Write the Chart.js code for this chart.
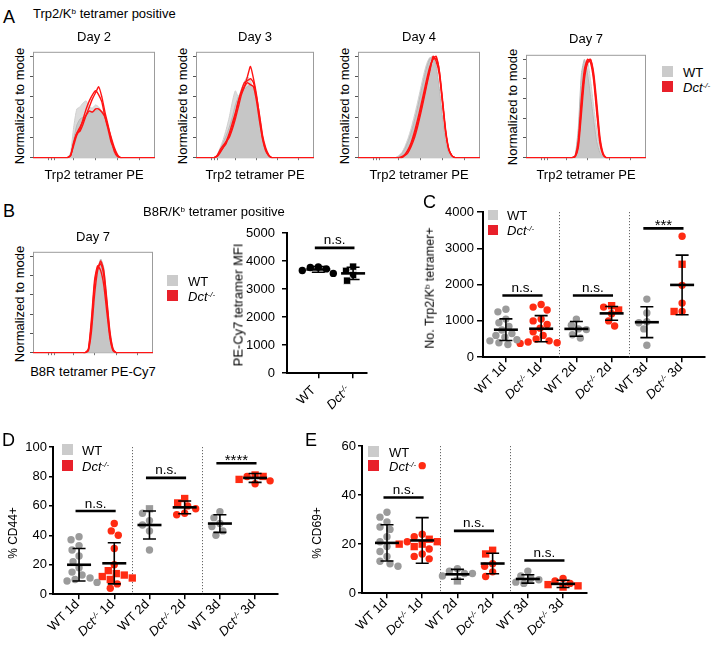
<!DOCTYPE html>
<html>
<head>
<meta charset="utf-8">
<title>Trp2 / B8R tetramer figure</title>
<script src="https://cdn.jsdelivr.net/npm/chart.js@4.4.1/dist/chart.umd.min.js"></script>
<style>
html,body{margin:0;padding:0;background:#fff;}
#root{position:relative;width:714px;height:653px;overflow:hidden;font-family:'Liberation Sans',Arial,Helvetica,sans-serif;color:#000;}
#root canvas{position:absolute;}
.tx{position:absolute;white-space:nowrap;}
.sq{position:absolute;}
sup{font-size:0.62em;vertical-align:baseline;position:relative;top:-0.5em;}
</style>
</head>
<body>
<div id="root"></div>
<script>
// ---------------- DATA ----------------
// histogram bins (channel index across the axis)
const histBins = Array.from({length: 40}, (_, i) => i);
const histYTicks = [0, 20, 40, 60, 80, 100];
const histXTicks = [5, 6, 7, 13, 20, 27, 34];

// Panel A: Trp2/Kb tetramer positive, normalized to mode (%)
const d2WT1 = [0,0,0,0,0,0,0,0,0,0,0,0,3,18,32,38,40,42,44,45,46,47,46,42,30,15,4,0,0,0,0,0,0,0,0,0,0,0,0,0];
const d2WT2 = [0,0,0,0,0,0,0,0,0,0,0,0,5,30,48,50,54,56,50,49,52,50,45,35,22,8,2,0,0,0,0,0,0,0,0,0,0,0,0,0];
const d2Dct1 = [0,0,0,0,0,0,0,0,0,0,0,0,2,15,24,26,33,42,50,58,64,70,60,45,32,18,6,1,0,0,0,0,0,0,0,0,0,0,0,0];
const d2Dct2 = [0,0,0,0,0,0,0,0,0,0,0,0,2,12,22,28,38,48,56,62,66,62,55,40,28,15,8,2,0,0,0,0,0,0,0,0,0,0,0,0];
const d2Dct3 = [0,0,0,0,0,0,0,0,0,0,0,0,2,14,24,30,36,42,46,45,48,48,45,40,30,20,10,3,0,0,0,0,0,0,0,0,0,0,0,0];

const d3WT1 = [0,0,0,0,0,0,0,2,8,15,22,30,40,52,60,65,68,70,72,70,55,35,18,6,1,0,0,0,0,0,0,0,0,0,0,0,0,0,0,0];
const d3WT2 = [0,0,0,0,0,0,0,3,10,18,28,40,55,66,60,68,75,80,76,65,48,28,12,4,1,0,0,0,0,0,0,0,0,0,0,0,0,0,0,0];
const d3Dct1 = [0,0,0,0,0,0,0,2,8,12,16,20,28,38,50,62,70,80,90,78,62,40,20,8,2,0,0,0,0,0,0,0,0,0,0,0,0,0,0,0];
const d3Dct2 = [0,0,0,0,0,0,0,2,6,10,14,22,30,42,55,66,74,76,78,74,60,42,22,10,3,0,0,0,0,0,0,0,0,0,0,0,0,0,0,0];
const d3Dct3 = [0,0,0,0,0,0,0,1,5,10,16,24,34,44,56,64,70,74,72,70,56,36,18,7,2,0,0,0,0,0,0,0,0,0,0,0,0,0,0,0];

const d4WT1 = [0,0,0,0,0,0,0,0,0,0,0,0,0,1,4,9,16,25,36,49,63,77,90,98,100,90,68,40,16,4,1,0,0,0,0,0,0,0,0,0];
const d4WT2 = [0,0,0,0,0,0,0,0,0,0,0,0,0,2,5,11,19,29,41,54,68,82,93,99,95,82,60,35,14,3,1,0,0,0,0,0,0,0,0,0];
const d4Dct1 = [0,0,0,0,0,0,0,0,0,0,0,0,0,0,1,3,7,13,22,33,46,60,74,88,98,100,85,55,25,8,2,0,0,0,0,0,0,0,0,0];
const d4Dct2 = [0,0,0,0,0,0,0,0,0,0,0,0,0,0,0,2,5,11,19,30,43,57,72,86,100,95,82,55,26,8,2,0,0,0,0,0,0,0,0,0];
const d4Dct3 = [0,0,0,0,0,0,0,0,0,0,0,0,0,0,0,3,8,15,25,37,50,64,78,90,97,98,86,58,28,9,2,0,0,0,0,0,0,0,0,0];

const d7WT1 = [0,0,0,0,0,0,0,0,0,0,0,0,0,0,0,0,3,30,85,100,85,62,38,16,5,1,0,0,0,0,0,0,0,0,0,0,0,0,0,0];
const d7WT2 = [0,0,0,0,0,0,0,0,0,0,0,0,0,0,0,0,2,20,68,95,98,78,52,28,10,2,0,0,0,0,0,0,0,0,0,0,0,0,0,0];
const d7Dct1 = [0,0,0,0,0,0,0,0,0,0,0,0,0,0,0,0,1,14,52,85,98,100,82,50,18,4,0,0,0,0,0,0,0,0,0,0,0,0,0,0];
const d7Dct2 = [0,0,0,0,0,0,0,0,0,0,0,0,0,0,0,0,1,10,44,80,96,99,86,56,22,5,0,0,0,0,0,0,0,0,0,0,0,0,0,0];
const d7Dct3 = [0,0,0,0,0,0,0,0,0,0,0,0,0,0,0,0,2,18,60,90,100,96,78,45,15,3,0,0,0,0,0,0,0,0,0,0,0,0,0,0];

// Panel B: B8R/Kb tetramer positive, day 7
const bWT1 = [0,0,0,0,0,0,0,0,0,0,0,0,0,0,0,0,0,0,4,25,55,85,97,88,55,22,4,0,0,0,0,0,0,0,0,0,0,0,0,0];
const bDct1 = [0,0,0,0,0,0,0,0,0,0,0,0,0,0,0,0,0,0,3,30,70,88,92,80,50,18,3,0,0,0,0,0,0,0,0,0,0,0,0,0];
const bDct2 = [0,0,0,0,0,0,0,0,0,0,0,0,0,0,0,0,0,0,2,22,60,85,95,85,55,22,4,0,0,0,0,0,0,0,0,0,0,0,0,0];
const bDct3 = [0,0,0,0,0,0,0,0,0,0,0,0,0,0,0,0,0,0,4,35,75,90,85,70,42,15,2,0,0,0,0,0,0,0,0,0,0,0,0,0];

// Panel B right: PE-Cy7 tetramer MFI
const bCategories = ['WT', 'Dct-/-'];
const bCircles = [[3560, 3660, 3720, 3790, 3770], []];
const bSquares = [[], [3800, 3650, 3500, 3300]];
const bMean = [3700, 3560];
const bSD = [100, 220];
const bSig = [4470];
const bSigText = ['n.s.'];
const bYTicks = [0, 1000, 2000, 3000, 4000, 5000];

// Panels C-E categories
const dayCategories = ['WT 1d', 'Dct-/- 1d', 'WT 2d', 'Dct-/- 2d', 'WT 3d', 'Dct-/- 3d'];

// Panel C: No. Trp2/Kb tetramer+
const cCircles = [
  [1320, 1250, 1050, 950, 850, 750, 650, 600, 550, 480, 450, 400, 350],
  [1450, 1380, 1300, 1050, 1000, 900, 800, 700, 600, 500, 450, 420, 400, 380],
  [1050, 880, 780, 760, 620, 530],
  [1380, 1200, 1000, 860],
  [1600, 1220, 980, 950, 780, 330],
  [3330, 1980, 1490, 1260]
];
const cSquares = [[], [], [], [1420, 1300], [], [2560, 1260]];
const cMean = [757, 784, 780, 1207, 964, 1991];
const cSD = [298, 360, 203, 189, 424, 820];
const cSig = [1700, 1700, 3550];
const cSigText = ['n.s.', 'n.s.', '***'];
const cYTicks = [0, 1000, 2000, 3000, 4000];

// Panel D: % CD44+
const dCircles = [
  [39, 37, 33, 30, 26, 22, 18, 15, 13, 11, 10, 9, 8],
  [48, 43, 40, 31, 20, 7, 4],
  [55, 50, 47, 43, 30],
  [60, 58, 55, 54],
  [56, 52, 48, 46, 43, 40],
  [80, 77, 75]
];
const dSquares = [[], [16, 14, 13, 12, 11, 10], [58], [65, 62], [], [81, 80, 78]];
const dMean = [20, 21, 47, 59, 48, 79];
const dSD = [11, 14, 9.5, 4.3, 6, 3];
const dSig = [56.5, 79, 89];
const dSigText = ['n.s.', 'n.s.', '****'];
const dYTicks = [0, 20, 40, 60, 80, 100];

// Panel E: % CD69+
const eCircles = [
  [33, 31, 29, 27, 26, 23, 21, 19, 17, 15, 13, 12, 11],
  [52, 24, 23, 21, 18, 16, 15, 14],
  [10, 9, 8, 8, 7],
  [12, 11, 8.7, 6.8],
  [9, 7, 6, 5.5, 4.5, 4],
  [6, 5, 4]
];
const eSquares = [[], [22, 21, 20, 20, 19], [5], [17.5, 16], [], [3.5, 3, 2.5]];
const eMean = [20.5, 21.5, 7.7, 12.1, 5.8, 3.8];
const eSD = [7.4, 9.3, 2, 4.2, 1.7, 1.5];
const eSig = [39, 25.4, 13.3];
const eSigText = ['n.s.', 'n.s.', 'n.s.'];
const eYTicks = [0, 20, 40, 60];

// ---------------- RENDERING ----------------
const root = document.getElementById('root');
const FONT = "'Liberation Sans', Arial, Helvetica, sans-serif";
Chart.defaults.font.family = FONT;
Chart.defaults.font.size = 13;
Chart.defaults.color = '#000';

const GRAY_PT = '#9b9b9b', RED_PT = '#ff2b12', RED_LINE = '#ff1414';
const LEG_GRAY = '#cbcbcb', LEG_RED = '#e8202a';

function genoHtml(s) {
  return s.replace('Dct-/-', '<i>Dct<sup>-/-</sup></i>');
}

function makeCanvas(box, pad) {
  const cv = document.createElement('canvas');
  const W = box.w + pad.l + pad.r, H = box.h + pad.t + pad.b;
  cv.width = W; cv.height = H;
  cv.style.left = (box.x - pad.l) + 'px';
  cv.style.top = (box.y - pad.t) + 'px';
  cv.style.width = W + 'px';
  cv.style.height = H + 'px';
  root.appendChild(cv);
  return cv;
}

function addText(html, x, base, o = {}) {
  const size = o.size || 13;
  const el = document.createElement('div');
  el.className = 'tx';
  el.innerHTML = html;
  el.style.fontSize = size + 'px';
  el.style.lineHeight = size + 'px';
  el.style.top = (base - size * 0.8465) + 'px';
  if (o.align === 'center') { el.style.left = x + 'px'; el.style.transform = 'translateX(-50%)'; }
  else el.style.left = x + 'px';
  root.appendChild(el);
  return el;
}
function addRotY(html, cx, cy, size = 13) {
  const el = document.createElement('div');
  el.className = 'tx';
  el.innerHTML = html;
  el.style.fontSize = size + 'px';
  el.style.lineHeight = size + 'px';
  el.style.left = cx + 'px';
  el.style.top = cy + 'px';
  el.style.transform = 'translate(-50%,-50%) rotate(-90deg)';
  root.appendChild(el);
}
function addXLabel(html, px, py, size = 13) {
  const el = document.createElement('div');
  el.className = 'tx';
  el.innerHTML = html;
  el.style.fontSize = size + 'px';
  el.style.lineHeight = '14px';
  el.style.height = '14px';
  el.style.right = (714 - px) + 'px';
  el.style.top = (py - 7) + 'px';
  el.style.transformOrigin = '100% 50%';
  el.style.transform = 'rotate(-45deg)';
  root.appendChild(el);
}
function addSquare(x, y, w, h, color) {
  const el = document.createElement('div');
  el.className = 'sq';
  el.style.left = x + 'px'; el.style.top = y + 'px';
  el.style.width = w + 'px'; el.style.height = h + 'px';
  el.style.background = color;
  root.appendChild(el);
}
const GENOTYPES_HTML = ['WT', '<i>Dct<sup>-/-</sup></i>'];
function legend(x, y, textX, gapY, size) {
  addSquare(x, y, size, size, LEG_GRAY);
  addSquare(x, y + gapY, size, size, LEG_RED);
  addText(GENOTYPES_HTML[0], textX, y + size, {});
  addText(GENOTYPES_HTML[1], textX, y + gapY + size, {});
}

// ---- histogram charts ----
const boxPlugin = {
  id: 'histBox',
  beforeDatasetsDraw(ch) {
    const {ctx, chartArea: a} = ch;
    ctx.save();
    ctx.strokeStyle = '#9c9c9c';
    ctx.lineWidth = 1;
    ctx.strokeRect(a.left + 0.5, a.top + 0.5, a.right - a.left - 1, a.bottom - a.top - 1);
    ctx.restore();
  }
};

function histChart(box, wt, dct) {
  const pad = {l: 5, t: 2, r: 2, b: 5};
  const cv = makeCanvas(box, pad);
  const datasets = [];
  dct.forEach(d => datasets.push({data: d, borderColor: RED_LINE, borderWidth: 1.4, pointRadius: 0, fill: false, tension: 0.2}));
  wt.forEach((d, k) => datasets.push({
    data: d, borderColor: k ? '#d0d0d0' : '#b8b8b8', backgroundColor: k ? '#dcdcdc' : '#c6c6c6',
    borderWidth: 1, pointRadius: 0, fill: 'origin', tension: 0.2
  }));
  return new Chart(cv, {
    type: 'line',
    data: {labels: histBins, datasets},
    plugins: [boxPlugin],
    options: {
      responsive: false, animation: false, devicePixelRatio: 1, events: [],
      layout: {padding: {left: 0, right: pad.r, top: pad.t, bottom: 0}},
      plugins: {legend: {display: false}, tooltip: {enabled: false}},
      scales: {
        x: {
          type: 'linear', min: 0, max: 39,
          afterFit: s => { s.height = pad.b; },
          afterBuildTicks: s => { s.ticks = histXTicks.map(v => ({value: v})); },
          ticks: {callback: () => ''},
          border: {display: false},
          grid: {drawOnChartArea: false, drawTicks: true, tickLength: 2, color: '#777', lineWidth: 1}
        },
        y: {
          min: -0.6, max: 104.5,
          afterFit: s => { s.width = pad.l; },
          afterBuildTicks: s => { s.ticks = histYTicks.map(v => ({value: v})); },
          ticks: {callback: () => ''},
          border: {display: false},
          grid: {drawOnChartArea: false, drawTicks: true, tickLength: 3, color: '#555', lineWidth: 1}
        }
      }
    }
  });
}

// ---- dot plot charts ----
function swarm(ys, pxPerY, pxPerX, diam) {
  const order = ys.map((_, i) => i).sort((a, b) => ys[b] - ys[a]);
  const placed = [];
  const out = new Array(ys.length);
  for (const i of order) {
    const py = ys[i] * pxPerY;
    let chosen = 0;
    for (let k = 0; k < 80; k++) {
      const off = k === 0 ? 0 : (k % 2 ? -1 : 1) * Math.ceil(k / 2) * 1.0;
      if (placed.every(p => Math.hypot(p.x - off, p.y - py) >= diam)) { chosen = off; break; }
    }
    placed.push({x: chosen, y: py});
    out[i] = chosen / pxPerX;
  }
  return out;
}

const dotsPlugin = {
  id: 'dots',
  beforeDatasetsDraw(ch, args, o) {
    const {ctx, chartArea: ca, scales: {x}} = ch;
    (o.seps || []).forEach(v => {
      const px = Math.round(x.getPixelForValue(v)) + 0.5;
      ctx.save();
      ctx.strokeStyle = '#666';
      ctx.lineWidth = 1;
      ctx.setLineDash([1.2, 1.8]);
      ctx.beginPath(); ctx.moveTo(px, ca.top); ctx.lineTo(px, ca.bottom); ctx.stroke();
      ctx.restore();
    });
  },
  afterDatasetsDraw(ch, args, o) {
    const {ctx, scales: {x, y}} = ch;
    ctx.save();
    ctx.strokeStyle = '#000';
    ctx.fillStyle = '#000';
    o.mean.forEach((m, i) => {
      const px = x.getPixelForValue(i);
      const pm = y.getPixelForValue(m), pt = y.getPixelForValue(m + o.sd[i]), pb = y.getPixelForValue(m - o.sd[i]);
      ctx.lineWidth = 1.6;
      ctx.beginPath();
      ctx.moveTo(px, pt); ctx.lineTo(px, pb);
      ctx.moveTo(px - 6.5, pt); ctx.lineTo(px + 6.5, pt);
      ctx.moveTo(px - 6.5, pb); ctx.lineTo(px + 6.5, pb);
      ctx.stroke();
      ctx.lineWidth = 2.6;
      ctx.beginPath(); ctx.moveTo(px - 12, pm); ctx.lineTo(px + 12, pm); ctx.stroke();
    });
    o.sig.forEach((v, k) => {
      const g = 2 * k;
      const x1 = x.getPixelForValue(g - 0.1), x2 = x.getPixelForValue(g + 1.04);
      const py = y.getPixelForValue(v);
      ctx.lineWidth = 2.6;
      ctx.beginPath(); ctx.moveTo(x1, py); ctx.lineTo(x2, py); ctx.stroke();
      const t = o.sigText[k];
      const star = t.indexOf('*') >= 0;
      ctx.font = (star ? '15px ' : '13.5px ') + FONT;
      ctx.textAlign = 'center';
      ctx.textBaseline = 'alphabetic';
      ctx.fillText(t, (x1 + x2) / 2, star ? py + 1.5 : py - 3.5);
    });
    ctx.restore();
  }
};

function dotChart(cfg) {
  const {box, pad, xmin, xmax, ymin, ymax, yTicks, circles, squares, colors} = cfg;
  const cv = makeCanvas(box, pad);
  const pxPerY = box.h / (ymax - ymin), pxPerX = box.w / (xmax - xmin);
  const datasets = [];
  circles.forEach((grp, g) => {
    const all = grp.concat(squares[g]);
    const offs = swarm(all, pxPerY, pxPerX, 7.8);
    datasets.push({
      data: grp.map((v, k) => ({x: g + offs[k], y: v})),
      pointStyle: 'circle', pointRadius: 3.7, backgroundColor: colors[g], borderWidth: 0, clip: false
    });
    if (squares[g].length) datasets.push({
      data: squares[g].map((v, k) => ({x: g + offs[grp.length + k], y: v})),
      pointStyle: 'rect', pointRadius: 5.2, backgroundColor: colors[g],
      borderWidth: cfg.sqBorder || 0, borderColor: '#fff', clip: false
    });
  });
  const chart = new Chart(cv, {
    type: 'scatter',
    data: {datasets},
    plugins: [dotsPlugin],
    options: {
      responsive: false, animation: false, devicePixelRatio: 1, events: [],
      layout: {padding: {left: 0, right: pad.r, top: pad.t, bottom: 0}},
      plugins: {
        legend: {display: false}, tooltip: {enabled: false},
        dots: {mean: cfg.mean, sd: cfg.sd, sig: cfg.sig, sigText: cfg.sigText, seps: cfg.seps}
      },
      scales: {
        x: {
          type: 'linear', min: xmin, max: xmax,
          afterFit: s => { s.height = pad.b; },
          afterBuildTicks: s => { s.ticks = circles.map((_, i) => ({value: i})); },
          ticks: {callback: () => ''},
          border: {display: true, color: '#000', width: 2},
          grid: {drawOnChartArea: false, drawTicks: true, tickLength: 5, color: '#000', lineWidth: 1.5}
        },
        y: {
          type: 'linear', min: ymin, max: ymax,
          afterFit: s => { s.width = pad.l; },
          afterBuildTicks: s => { s.ticks = yTicks.map(v => ({value: v})); },
          ticks: {callback: v => String(v), padding: cfg.tickPad, font: {size: 13}, color: '#000'},
          border: {display: true, color: '#000', width: 2},
          grid: {drawOnChartArea: false, drawTicks: true, tickLength: cfg.tickLen, color: '#000', lineWidth: 1.5}
        }
      }
    }
  });
  // rotated category labels, positioned from the chart's own x scale
  const left = box.x - pad.l, top = box.y - pad.t;
  cfg.labels.forEach((lab, i) => {
    const px = left + chart.scales.x.getPixelForValue(i);
    const py = top + chart.chartArea.bottom;
    addXLabel(genoHtml(lab), px + cfg.lab[0], py + cfg.lab[1]);
  });
  return chart;
}

// ---------- Panel A ----------
const boxA2 = {x: 33, y: 43, w: 122, h: 121};
const boxA3 = {x: 196, y: 43, w: 118, h: 121};
const boxA4 = {x: 358, y: 43, w: 122, h: 121};
const boxA7 = {x: 526, y: 46, w: 120, h: 118};
const boxB7 = {x: 33, y: 243, w: 120, h: 116};

histChart(boxA2, [d2WT1, d2WT2], [d2Dct1, d2Dct2, d2Dct3]);
histChart(boxA3, [d3WT1, d3WT2], [d3Dct1, d3Dct2, d3Dct3]);
histChart(boxA4, [d4WT1, d4WT2], [d4Dct1, d4Dct2, d4Dct3]);
histChart(boxA7, [d7WT1, d7WT2], [d7Dct1, d7Dct2, d7Dct3]);
histChart(boxB7, [bWT1], [bDct1, bDct2, bDct3]);

// ---------- dot plots ----------
const grpColors = [GRAY_PT, RED_PT, GRAY_PT, RED_PT, GRAY_PT, RED_PT];

dotChart({
  box: {x: 287, y: 233, w: 80, h: 147}, pad: {l: 60, t: 16, r: 6, b: 8},
  xmin: -0.9, xmax: 1.4, ymin: 0, ymax: 5000, yTicks: bYTicks,
  circles: bCircles, squares: bSquares, colors: ['#000', '#000'], sqBorder: 0.8,
  mean: bMean, sd: bSD, sig: bSig, sigText: bSigText, seps: [],
  tickLen: 5, tickPad: 7, labels: bCategories, lab: [-5, 14.5]
});
dotChart({
  box: {x: 483, y: 212, w: 222, h: 148}, pad: {l: 58, t: 14, r: 6, b: 8},
  xmin: -0.65, xmax: 5.65, ymin: 0, ymax: 4000, yTicks: cYTicks,
  circles: cCircles, squares: cSquares, colors: grpColors,
  mean: cMean, sd: cSD, sig: cSig, sigText: cSigText, seps: [1.5, 3.5],
  tickLen: 6, tickPad: 3, labels: dayCategories, lab: [-2, 7.5]
});
dotChart({
  box: {x: 53, y: 447, w: 225, h: 149}, pad: {l: 50, t: 14, r: 6, b: 8},
  xmin: -0.74, xmax: 5.65, ymin: 0, ymax: 100, yTicks: dYTicks,
  circles: dCircles, squares: dSquares, colors: grpColors,
  mean: dMean, sd: dSD, sig: dSig, sigText: dSigText, seps: [1.5, 3.5],
  tickLen: 4, tickPad: 2, labels: dayCategories, lab: [-2, 7.5]
});
dotChart({
  box: {x: 362, y: 446, w: 225, h: 149}, pad: {l: 46, t: 14, r: 6, b: 8},
  xmin: -0.71, xmax: 5.68, ymin: 0, ymax: 60, yTicks: eYTicks,
  circles: eCircles, squares: eSquares, colors: grpColors,
  mean: eMean, sd: eSD, sig: eSig, sigText: eSigText, seps: [1.5, 3.5],
  tickLen: 4, tickPad: 2, labels: dayCategories, lab: [-2, 7.5]
});

// ---------- text ----------
// Panel A
addText('A', 3, 23, {size: 18});
addText('Trp2/K<sup>b</sup> tetramer positive', 33, 18);
[[boxA2, 'Day 2', 41], [boxA3, 'Day 3', 41], [boxA4, 'Day 4', 41], [boxA7, 'Day 7', 43]].forEach(([b, t, base]) => {
  addText(t, b.x + b.w / 2, base, {align: 'center'});
  addText('Trp2 tetramer PE', b.x + b.w / 2, 179.5, {align: 'center'});
  addRotY('Normalized to mode', b.x - 14, b.y + b.h / 2 + 2);
});
legend(662, 66, 683, 15, 11);

// Panel B
addText('B', 3, 217, {size: 18});
addText('B8R/K<sup>b</sup> tetramer positive', 143, 216);
addText('Day 7', boxB7.x + boxB7.w / 2, 241, {align: 'center'});
addText('B8R tetramer PE-Cy7', boxB7.x + boxB7.w / 2, 376, {align: 'center'});
addRotY('Normalized to mode', boxB7.x - 14, boxB7.y + boxB7.h / 2 + 3);
legend(167, 275, 188, 15, 11);
addRotY('PE-Cy7 tetramer MFI', 238, 305);

// Panel C
addText('C', 423, 208, {size: 18});
legend(488, 210, 507, 15, 10);
addRotY('No. Trp2/K<sup>b</sup> tetramer+', 431, 288, 12.5);

// Panel D
addText('D', 2, 446, {size: 18});
legend(62, 444, 82, 16, 11);
addRotY('% CD44+', 13, 533, 12);

// Panel E
addText('E', 305, 446, {size: 18});
legend(368, 446, 389, 14, 11);
addRotY('% CD69+', 317, 533, 12);
</script>
</body>
</html>
